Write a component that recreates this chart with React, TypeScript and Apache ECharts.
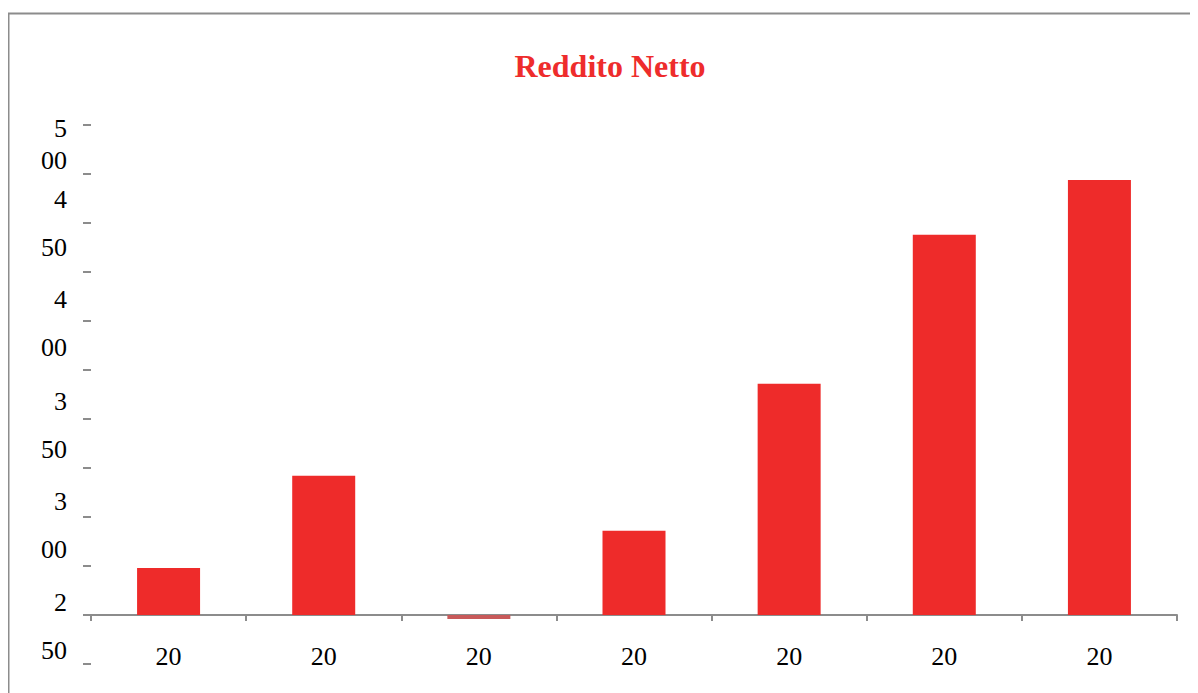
import React, { useEffect, useRef } from "react";
import * as echarts from "echarts";

const categories = ["20", "20", "20", "20", "20", "20", "20"];
const values = [274, 321, 248, 293, 368, 444, 472];
const yTicks = { min: 225, max: 500, interval: 25, base: 250 };
const titleText = "Reddito Netto";

export default function App() {
  const ref = useRef<HTMLDivElement>(null);
  useEffect(() => {
    if (!ref.current) return;
    const chart = echarts.init(ref.current, null, { renderer: "svg" });
    const shift: Record<number, string> = { 500: "a", 450: "b", 400: "c", 350: "d", 300: "e", 250: "f" };
    chart.setOption({
      animation: false,
      backgroundColor: "#ffffff",
      title: {
        text: titleText,
        left: 597,
        top: 37,
        textAlign: "center",
        textStyle: {
          fontFamily: "Liberation Serif",
          fontWeight: "bold",
          fontSize: 32,
          color: "#ee2c2c",
        },
      },
      graphic: [
        {
          type: "polyline",
          shape: { points: [[0.5, 720], [0.5, 5.5], [1220, 5.5]] },
          style: { stroke: "#8c8c8c", lineWidth: 2, fill: "none" },
          silent: true,
        },
      ],
      grid: { left: 83, right: 21, top: 117, bottom: 29, containLabel: false },
      xAxis: {
        type: "category",
        data: categories,
        offset: -49,
        axisLine: { show: true, lineStyle: { color: "#8c8c8c", width: 2 } },
        axisTick: { show: true, length: 6, lineStyle: { color: "#8c8c8c", width: 2 } },
        axisLabel: {
          margin: 28,
          fontFamily: "Liberation Serif",
          fontSize: 26,
          color: "#000000",
        },
      },
      yAxis: {
        type: "value",
        min: yTicks.min,
        max: yTicks.max,
        interval: yTicks.interval,
        startValue: yTicks.base,
        splitLine: { show: false },
        axisLine: { show: false },
        axisTick: { show: true, length: 8, lineStyle: { color: "#8c8c8c", width: 2 } },
        axisLabel: {
          margin: 24,
          fontFamily: "Liberation Serif",
          fontSize: 26,
          color: "#000000",
          formatter: (v: number) => {
            if (v % 50 !== 0) return "";
            const s = String(v);
            const k = shift[v] || "b";
            return "{" + k + "|" + s.slice(0, 1) + "\n" + s.slice(1) + "}";
          },
          rich: {
            a: { lineHeight: 32, padding: [38, 0, 0, 0], fontSize: 26, fontFamily: "Liberation Serif", align: "right" },
            b: { lineHeight: 48, fontSize: 26, fontFamily: "Liberation Serif", align: "right" },
            c: { lineHeight: 48, padding: [4, 0, 0, 0], fontSize: 26, fontFamily: "Liberation Serif", align: "right" },
            d: { lineHeight: 48, padding: [12, 0, 0, 0], fontSize: 26, fontFamily: "Liberation Serif", align: "right" },
            e: { lineHeight: 48, padding: [16, 0, 0, 0], fontSize: 26, fontFamily: "Liberation Serif", align: "right" },
            f: { lineHeight: 48, padding: [22, 0, 0, 0], fontSize: 26, fontFamily: "Liberation Serif", align: "right" },
          },
        },
      },
      series: [
        {
          type: "bar",
          data: values.map((v) =>
            v < yTicks.base ? { value: v, itemStyle: { color: "#c85a5a" } } : v
          ),
          barWidth: 63,
          clip: false,
          itemStyle: { color: "#ee2b2a" },
        },
      ],
    });
    return () => chart.dispose();
  }, []);
  return <div ref={ref} style={{ width: 1190, height: 685 }} />;
}
